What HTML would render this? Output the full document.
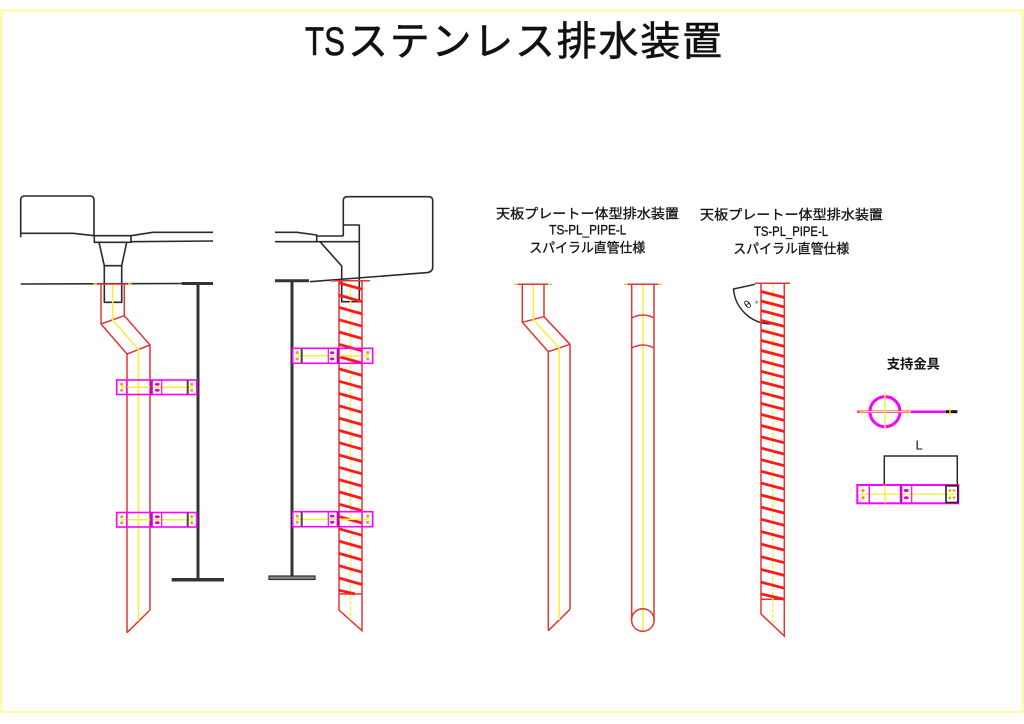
<!DOCTYPE html>
<html><head><meta charset="utf-8"><style>
html,body{margin:0;padding:0;background:#fff;}
svg{display:block;}
text{font-family:"Liberation Sans","Noto Sans CJK JP",sans-serif;fill:#111;}
</style></head><body>
<svg width="1024" height="724" viewBox="0 0 1024 724" xmlns="http://www.w3.org/2000/svg">
<rect width="1024" height="724" fill="#fff"/>
<rect x="1.5" y="10.5" width="1021" height="701.5" fill="none" stroke="#ffff70" stroke-width="1.5"/>

<!-- Title -->
<text x="305" y="55" font-size="40" textLength="40" lengthAdjust="spacingAndGlyphs" stroke="#111" stroke-width="0.6">TS</text>
<text x="348" y="55" font-size="40" textLength="374" lengthAdjust="spacing" stroke="#111" stroke-width="0.6">ステンレス排水装置</text>

<!-- ========== Structure 1 (black) ========== -->
<g fill="none" stroke="#2a2a2a" stroke-width="1.6" stroke-linejoin="round">
  <path d="M20.7,237.3 L20.7,200 Q20.7,196 24.7,196 L90,196 Q94,196 94,200 L94,235.7"/>
  <path d="M20.7,233.3 L73,233.3 L94.3,235.7"/>
  <rect x="94.3" y="235.7" width="36.7" height="6.6"/>
  <path d="M131,235.7 L153,232.3 L213,232.3"/>
  <path d="M131,241.7 L213,241"/>
  <path d="M99,242.3 L104.3,265.7 L104.3,302.3 L121.7,302.3 L121.7,265.7 L126.7,242.3"/>
  <path d="M104.3,265.7 L121.7,265.7"/>
  <path d="M20.7,284 L181.7,283.5"/>
</g>
<g stroke="#333" fill="none">
  <path d="M181.7,283.5 L213,283.5" stroke-width="3"/>
  <path d="M198,284 L198,579" stroke-width="3"/>
  <path d="M171.7,579.8 L224,579.8" stroke-width="3.5"/>
</g>

<!-- ========== Structure 2 (black) ========== -->
<g fill="none" stroke="#2a2a2a" stroke-width="1.6" stroke-linejoin="round">
  <path d="M343.3,236 L343.3,200.7 Q343.3,196.7 347.3,196.7 L428.7,196.7 Q432.7,196.7 432.7,200.7 L432.7,267 Q432.7,271.7 427.5,272.6 L310,281.7"/>
  <path d="M343.3,225 L359.3,225 L359.3,301.7 L341.7,301.7 L341.7,266 L320,241.7"/>
  <path d="M275,232.3 L296.7,232.3 L316.7,235 L316.7,241.7"/>
  <path d="M316.7,236 L343.3,236"/>
  <path d="M275,241.7 L359.3,241.7"/>
</g>
<g stroke="#333" fill="none">
  <path d="M275,280.7 L309,280.7" stroke-width="3"/>
  <path d="M292,281 L292,577" stroke-width="3"/>
</g>
<rect x="269" y="576" width="46" height="3.5" fill="#888" stroke="#333" stroke-width="1.2"/>

<!-- ========== Pipe 1 (bent, left) ========== -->
<g fill="none" stroke="#e03535" stroke-width="1.5" stroke-linejoin="round">
  <path d="M93.3,284 L131.7,284"/>
  <path d="M101,284 L101,324 L127,354 L127,632.7"/>
  <path d="M124.3,284 L124.3,315.7 L150,345 L150,610"/>
  <path d="M101,324 L124.3,315.7"/>
  <path d="M127,354 L150,345"/>
  <path d="M127,632.7 L150,610"/>
</g>
<path d="M112.7,285 L112.7,320 L138.5,349.5 L138.5,621" fill="none" stroke="#f5f03a" stroke-width="1.5"/>
<path d="M93.3,284 L97,284 M128,284 L131.7,284" stroke="#f5d040" stroke-width="1.5"/>

<!-- ========== Pipe 2 (spiral, structure 2) ========== -->
<g fill="none" stroke="#e03535" stroke-width="1.5">
  <path d="M330,280.7 L370,280.7"/>
  <path d="M339,280.7 L339,610 L362,630.7 L362,280.7"/>
  <path d="M339,594 L362,594"/>
</g>
<path d="M350.5,282 L350.5,620" stroke="#f5f060" stroke-width="1.5" stroke-dasharray="4,1.5"/>
<g stroke="#ff1a1a" stroke-width="2.8">
  <path d="M339,282.8 L362,289.3"/><path d="M339,295.1 L362,301.6"/><path d="M339,307.4 L362,313.9"/>
  <path d="M339,319.7 L362,326.2"/><path d="M339,332 L362,338.5"/><path d="M339,344.3 L362,350.8"/>
  <path d="M339,356.6 L362,363.1"/><path d="M339,368.9 L362,375.4"/><path d="M339,381.2 L362,387.7"/>
  <path d="M339,393.5 L362,400"/><path d="M339,405.8 L362,412.3"/><path d="M339,418.1 L362,424.6"/>
  <path d="M339,430.4 L362,436.9"/><path d="M339,442.7 L362,449.2"/><path d="M339,455 L362,461.5"/>
  <path d="M339,467.3 L362,473.8"/><path d="M339,479.6 L362,486.1"/><path d="M339,491.9 L362,498.4"/>
  <path d="M339,504.2 L362,510.7"/><path d="M339,516.5 L362,523"/><path d="M339,528.8 L362,535.3"/>
  <path d="M339,541.1 L362,547.6"/><path d="M339,553.4 L362,559.9"/><path d="M339,565.7 L362,572.2"/>
  <path d="M339,578 L362,584.5"/><path d="M339,590.3 L355,594"/>
</g>

<!-- ========== Clamps pipe 1 ========== -->
<g transform="translate(116.7,380)">
  <rect x="0" y="0" width="80" height="14.5" fill="none" stroke="#ff00ff" stroke-width="1.6"/>
  <path d="M4,7.2 L76,7.2" stroke="#f5f03a" stroke-width="1.5"/>
  <path d="M10,0 L10,14.5" stroke="#ff00ff" stroke-width="1.4"/>
  <rect x="33.3" y="0" width="2.8" height="14.5" fill="#d000d0"/>
  <path d="M45,0 L45,14.5" stroke="#ff00ff" stroke-width="1.2"/>
  <path d="M71,0.5 L71,14" stroke="#444" stroke-width="2"/>
  <circle cx="5" cy="4.2" r="1.6" fill="#f0a020"/><circle cx="5" cy="10.3" r="1.6" fill="#f0a020"/>
  <circle cx="75" cy="4.2" r="1.6" fill="#f0a020"/><circle cx="75" cy="10.3" r="1.6" fill="#f0a020"/>
  <ellipse cx="40.6" cy="4.2" rx="2.4" ry="1.5" fill="#e000e0"/><ellipse cx="40.6" cy="10.3" rx="2.4" ry="1.5" fill="#e000e0"/>
</g>
<g transform="translate(116.7,512.5)">
  <rect x="0" y="0" width="80" height="14.5" fill="none" stroke="#ff00ff" stroke-width="1.6"/>
  <path d="M4,7.2 L76,7.2" stroke="#f5f03a" stroke-width="1.5"/>
  <path d="M10,0 L10,14.5" stroke="#ff00ff" stroke-width="1.4"/>
  <rect x="33.3" y="0" width="2.8" height="14.5" fill="#d000d0"/>
  <path d="M45,0 L45,14.5" stroke="#ff00ff" stroke-width="1.2"/>
  <path d="M71,0.5 L71,14" stroke="#444" stroke-width="2"/>
  <circle cx="5" cy="4.2" r="1.6" fill="#f0a020"/><circle cx="5" cy="10.3" r="1.6" fill="#f0a020"/>
  <circle cx="75" cy="4.2" r="1.6" fill="#f0a020"/><circle cx="75" cy="10.3" r="1.6" fill="#f0a020"/>
  <ellipse cx="40.6" cy="4.2" rx="2.4" ry="1.5" fill="#e000e0"/><ellipse cx="40.6" cy="10.3" rx="2.4" ry="1.5" fill="#e000e0"/>
</g>

<!-- ========== Clamps pipe 2 ========== -->
<g transform="translate(292.7,348.3)">
  <rect x="0" y="0" width="80" height="15" fill="none" stroke="#ff00ff" stroke-width="1.6"/>
  <path d="M4,7.5 L76,7.5" stroke="#f5f03a" stroke-width="1.5"/>
  <path d="M9,0.5 L9,14.5" stroke="#444" stroke-width="2"/>
  <path d="M35.6,0 L35.6,15" stroke="#ff00ff" stroke-width="1.2"/>
  <rect x="44" y="0" width="2.6" height="15" fill="#c000c0"/>
  <path d="M69.3,0 L69.3,15" stroke="#ff00ff" stroke-width="1.2"/>
  <circle cx="4.5" cy="4.4" r="1.6" fill="#f0a020"/><circle cx="4.5" cy="10.6" r="1.6" fill="#f0a020"/>
  <circle cx="75" cy="4.4" r="1.6" fill="#f0a020"/><circle cx="75" cy="10.6" r="1.6" fill="#f0a020"/>
  <ellipse cx="39.5" cy="4.4" rx="2.3" ry="1.5" fill="#e000e0"/><ellipse cx="39.5" cy="10.6" rx="2.3" ry="1.5" fill="#e000e0"/>
</g>
<g transform="translate(292.7,511.7)">
  <rect x="0" y="0" width="80" height="15" fill="none" stroke="#ff00ff" stroke-width="1.6"/>
  <path d="M4,7.5 L76,7.5" stroke="#f5f03a" stroke-width="1.5"/>
  <path d="M9,0.5 L9,14.5" stroke="#444" stroke-width="2"/>
  <path d="M35.6,0 L35.6,15" stroke="#ff00ff" stroke-width="1.2"/>
  <rect x="44" y="0" width="2.6" height="15" fill="#c000c0"/>
  <path d="M69.3,0 L69.3,15" stroke="#ff00ff" stroke-width="1.2"/>
  <circle cx="4.5" cy="4.4" r="1.6" fill="#f0a020"/><circle cx="4.5" cy="10.6" r="1.6" fill="#f0a020"/>
  <circle cx="75" cy="4.4" r="1.6" fill="#f0a020"/><circle cx="75" cy="10.6" r="1.6" fill="#f0a020"/>
  <ellipse cx="39.5" cy="4.4" rx="2.3" ry="1.5" fill="#e000e0"/><ellipse cx="39.5" cy="10.6" rx="2.3" ry="1.5" fill="#e000e0"/>
</g>

<!-- ========== Texts group 1 & 2 ========== -->
<g stroke="#111" stroke-width="0.3">
<text x="496" y="218.5" font-size="13.5" textLength="183" lengthAdjust="spacingAndGlyphs">天板プレートー体型排水装置</text>
<text x="549.3" y="234.3" font-size="13.5" textLength="77" lengthAdjust="spacingAndGlyphs">TS-PL_PIPE-L</text>
<text x="529.3" y="252.5" font-size="13.5" textLength="116" lengthAdjust="spacingAndGlyphs">スパイラル直管仕様</text>

<text x="700" y="219.5" font-size="13.5" textLength="183" lengthAdjust="spacingAndGlyphs">天板プレートー体型排水装置</text>
<text x="754" y="236" font-size="13.5" textLength="74" lengthAdjust="spacingAndGlyphs">TS-PL_PIPE-L</text>
<text x="733.3" y="253.5" font-size="13.5" textLength="116" lengthAdjust="spacingAndGlyphs">スパイラル直管仕様</text>
</g>

<!-- ========== Pipe 3 (bent, middle) ========== -->
<g fill="none" stroke="#e03535" stroke-width="1.5" stroke-linejoin="round">
  <path d="M514.3,284.3 L551.7,284.3"/>
  <path d="M522.3,284.3 L522.3,322.3 L548.3,351.7 L548.3,630.7"/>
  <path d="M544,284.3 L544,316.7 L570,344.3 L570,609.3"/>
  <path d="M522.3,322.3 L544,316.7"/>
  <path d="M548.3,351.7 L570,344.3"/>
  <path d="M548.3,630.7 L570,609.3"/>
</g>
<path d="M533.2,285 L533.2,319.5 L559.2,348 L559.2,620" fill="none" stroke="#f5f03a" stroke-width="1.5"/>
<path d="M514.3,284.3 L518,284.3 M548,284.3 L551.7,284.3" stroke="#f5d040" stroke-width="1.5"/>

<!-- ========== Pipe 4 (straight w/ circle) ========== -->
<path d="M642.85,285 L642.85,631" stroke="#f5f03a" stroke-width="1.5"/>
<g fill="none" stroke="#e03535" stroke-width="1.5">
  <path d="M624,284.3 L661.7,284.3"/>
  <path d="M631.7,284.3 L631.7,620"/>
  <path d="M654,284.3 L654,620"/>
  <path d="M631.7,318 Q642.85,312 654,318"/>
  <path d="M631.7,348 Q642.85,342 654,348"/>
  <circle cx="642.85" cy="620" r="11.3"/>
</g>
<path d="M624,284.3 L627.5,284.3 M658,284.3 L661.7,284.3" stroke="#f5d040" stroke-width="1.5"/>

<!-- ========== Pipe 5 (spiral w/ angle) ========== -->
<path d="M755,284.3 L733.5,289 A38,38 0 0 0 771,324" fill="none" stroke="#2a2a2a" stroke-width="1.5"/>
<text x="744" y="307" font-size="11" transform="rotate(-40 749 303)">θ</text>
<text x="755" y="307" font-size="8">°</text>
<g fill="none" stroke="#e03535" stroke-width="1.5">
  <path d="M755,283.3 L790,283.3"/>
  <path d="M761,283.3 L761,614 L784.3,636 L784.3,283.3"/>
  <path d="M761,599.3 L784.3,599.3"/>
</g>
<path d="M772.7,284 L772.7,625" stroke="#f5f060" stroke-width="1.5" stroke-dasharray="4,1.5"/>
<g stroke="#ff1a1a" stroke-width="2.8">
  <path d="M761,291.5 L784.3,297.5"/><path d="M761,301 L784.3,307"/><path d="M761,310.6 L784.3,316.6"/>
  <path d="M761,320.4 L784.3,326.4"/><path d="M761,330.3 L784.3,336.3"/><path d="M761,340.4 L784.3,346.4"/>
  <path d="M761,350.5 L784.3,356.5"/><path d="M761,360.8 L784.3,366.8"/><path d="M761,371.3 L784.3,377.3"/>
  <path d="M761,381.9 L784.3,387.9"/><path d="M761,392.6 L784.3,398.6"/><path d="M761,403.4 L784.3,409.4"/>
  <path d="M761,414.4 L784.3,420.4"/><path d="M761,425.5 L784.3,431.5"/><path d="M761,436.8 L784.3,442.8"/>
  <path d="M761,448.1 L784.3,454.1"/><path d="M761,459.7 L784.3,465.7"/><path d="M761,471.3 L784.3,477.3"/>
  <path d="M761,483.1 L784.3,489.1"/><path d="M761,495 L784.3,501"/><path d="M761,507.1 L784.3,513.1"/>
  <path d="M761,519.3 L784.3,525.3"/><path d="M761,531.6 L784.3,537.6"/><path d="M761,544.1 L784.3,550.1"/>
  <path d="M761,556.7 L784.3,562.7"/><path d="M761,569.4 L784.3,575.4"/><path d="M761,582.2 L784.3,588.2"/>
  <path d="M761,594 L784.3,599.3"/>
</g>

<!-- ========== Support fittings ========== -->
<text x="886.7" y="368.5" font-size="13.3" font-weight="bold" textLength="53.3" lengthAdjust="spacingAndGlyphs">支持金具</text>
<path d="M857.3,411.7 L948.3,411.7" stroke="#ff00ff" stroke-width="2.5"/>
<path d="M946,411.7 L957.3,411.7" stroke="#111" stroke-width="3"/>
<circle cx="885" cy="411.7" r="15" fill="none" stroke="#ff00ff" stroke-width="3"/>
<path d="M859,411.7 L911,411.7 M885,391.7 L885,430" stroke="#f5f03a" stroke-width="1.4"/>
<path d="M950,407.5 L950,416" stroke="#f5f03a" stroke-width="1.4"/>
<circle cx="862" cy="411.7" r="1.8" fill="#f0b040"/>
<circle cx="907" cy="411.7" r="1.8" fill="#f0b040"/>

<text x="915.5" y="449.3" font-size="13">L</text>
<path d="M884.3,485 L884.3,456 L957.3,456 L957.3,485" fill="none" stroke="#2a2a2a" stroke-width="1.5"/>

<g transform="translate(857.3,485)">
  <rect x="0" y="0" width="101" height="18.3" fill="none" stroke="#ff00ff" stroke-width="2"/>
  <path d="M3,9.2 L99,9.2 M27.7,0 L27.7,18.3" stroke="#f5f03a" stroke-width="1.4"/>
  <path d="M12,0 L12,18.3" stroke="#ff00ff" stroke-width="1.4"/>
  <rect x="42.5" y="0" width="2.6" height="18.3" fill="#d000d0"/>
  <path d="M54.4,0 L54.4,18.3" stroke="#ff00ff" stroke-width="1.2"/>
  <rect x="88.7" y="0.8" width="11.8" height="16.7" fill="none" stroke="#222" stroke-width="1.6"/>
  <circle cx="5.7" cy="5.5" r="1.7" fill="#f0a020"/><circle cx="5.7" cy="12.8" r="1.7" fill="#f0a020"/>
  <ellipse cx="49" cy="5.5" rx="2.4" ry="1.6" fill="#e000e0"/><ellipse cx="49" cy="12.8" rx="2.4" ry="1.6" fill="#e000e0"/>
  <circle cx="92.5" cy="5.5" r="1.4" fill="#f0a020"/><circle cx="96.7" cy="5.5" r="1.4" fill="#f0a020"/>
  <circle cx="92.5" cy="12.8" r="1.4" fill="#f0a020"/><circle cx="96.7" cy="12.8" r="1.4" fill="#f0a020"/>
</g>
</svg>
</body></html>
